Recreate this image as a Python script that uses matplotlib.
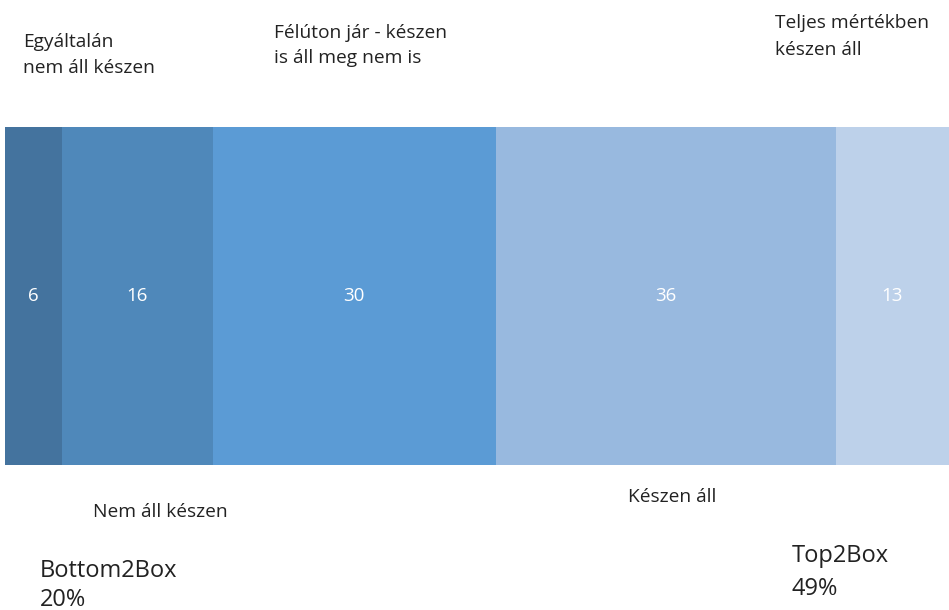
import matplotlib.pyplot as plt
import numpy as np

# adatok
values = [6, 16, 30, 36, 13]
colors = ["#44739e", "#4f88ba", "#5b9bd5", "#98b9df", "#bdd1ea"]
top_labels = ["Egyáltalán\nnem áll készen", "Félúton jár - készen\nis áll meg nem is", "Teljes mértékben\nkészen áll"]
bottom_labels = ["Nem áll készen", "Készen áll"]
box_labels = ["Bottom2Box\n20%", "Top2Box\n49%"]

plt.rcParams['font.family'] = ['Open Sans', 'DejaVu Sans']

W, H = 949, 610
fig = plt.figure(figsize=(W / 100, H / 100), dpi=100)
ax = fig.add_axes([5 / W, (H - 465) / H, (W - 5) / W, (465 - 127) / H])

xmax = 100
lefts = np.concatenate([[0], np.cumsum(values)[:-1]])
ax.barh(0, values, left=lefts, color=colors, height=1.0)
for l, v in zip(lefts, values):
    r = min(l + v, xmax)
    ax.text((l + r) / 2, 0, str(v), color="white", ha="center", va="center", fontsize=13.5)

ax.set_xlim(0, xmax)
ax.set_ylim(-0.5, 0.5)
ax.axis("off")


def put(label, x, y, step, size):
    # minden sort külön, alapvonalra igazítva
    for i, line in enumerate(label.split("\n")):
        fig.text(x / W, 1 - (y + i * step) / H, line, va="baseline", ha="left",
                 fontsize=size, color="#222222")


put(top_labels[0], 23, 47, 26, 13.8)
put(top_labels[1], 274, 38, 25, 13.8)
put(top_labels[2], 775, 28, 27, 13.8)
put(bottom_labels[0], 93, 517, 0, 13.8)
put(bottom_labels[1], 628, 502, 0, 13.8)
put(box_labels[0], 40, 577, 29, 17)
put(box_labels[1], 792, 562, 33, 17)

fig.savefig("out.png", dpi=100)
